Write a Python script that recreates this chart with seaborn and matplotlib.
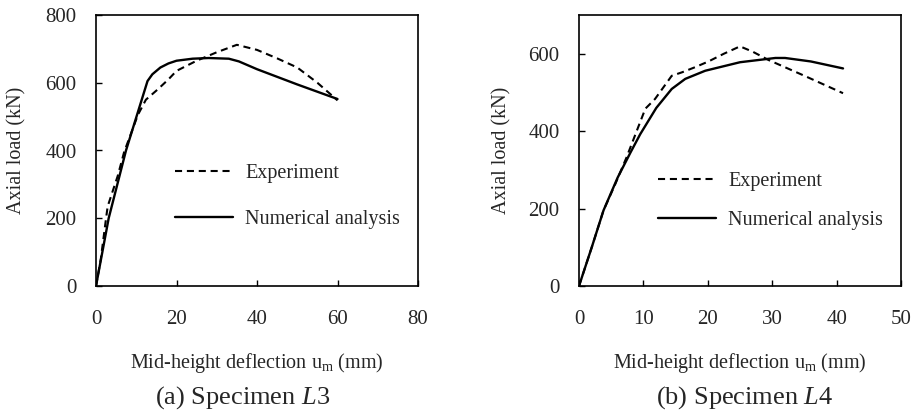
import matplotlib
matplotlib.use("Agg")
import matplotlib.pyplot as plt
import seaborn as sns
import pandas as pd

# ---- data ----
l3_exp_x = [0, 1.2, 2.5, 2.9, 5.4, 7.0, 8.7, 10.4, 12.4, 15.3, 18, 20, 25, 30, 35, 40, 45, 50, 55, 60]
l3_exp_y = [0, 80, 200, 235, 325, 396, 450, 505, 550, 580, 610, 635, 665, 690, 712, 697, 672, 645, 600, 548]
l3_num_x = [0, 3.15, 7.45, 12.8, 14, 16, 18, 20, 24, 28, 33, 35.5, 40, 50, 60]
l3_num_y = [0, 200, 400, 605, 625, 645, 657, 665, 671, 673, 671, 663, 640, 595, 552]

l4_exp_x = [0, 2, 3.8, 5.6, 7.4, 9.0, 10.3, 11.8, 14.4, 16, 18, 20.1, 22.5, 25, 27, 29.4, 35, 41]
l4_exp_y = [0, 101, 195, 262, 333, 402, 458, 483, 543, 552, 565, 580, 600, 619, 605, 584, 543, 498]
l4_num_x = [0, 2, 3.8, 6, 8, 9.5, 12, 14.4, 16.5, 19.6, 25, 30.5, 32, 36, 41]
l4_num_y = [0, 101, 195, 280, 345, 392, 460, 509, 535, 556, 578, 589, 589, 580, 562]

series_labels = ["Experiment", "Numerical analysis"]
captions = ["(a) Specimen $\\mathit{L}$3", "(b) Specimen $\\mathit{L}$4"]
x_ticks = [[0, 20, 40, 60, 80], [0, 10, 20, 30, 40, 50]]
y_ticks = [[0, 200, 400, 600, 800], [0, 200, 400, 600]]
y_lims = [(0, 800), (0, 700)]
x_label = "Mid-height deflection u$_{\\mathrm{m}}$ (mm)"
y_label = "Axial load (kN)"

sns.set_style("ticks")
plt.rcParams["font.family"] = ["Liberation Serif", "DejaVu Serif"]
plt.rcParams["mathtext.fontset"] = "custom"
plt.rcParams["mathtext.rm"] = "Liberation Serif"
plt.rcParams["mathtext.it"] = "Liberation Serif:italic"

W, H = 915, 415
fig = plt.figure(figsize=(W / 100, H / 100), dpi=100)
fig.patch.set_facecolor("white")

panels = [
    (96, l3_exp_x, l3_exp_y, l3_num_x, l3_num_y, 243, 1.3, 0.33, -0.217),
    (579, l4_exp_x, l4_exp_y, l4_num_x, l4_num_y, 745, 1.0, 0.315, -0.211),
]

dash = (0, (3.4, 2.3))
for i, (left_px, ex, ey, nx, ny, cap_x, lspace, leg_y, ylab_x) in enumerate(panels):
    ax = fig.add_axes([left_px / W, 129 / H, 322 / W, 271 / H])
    df_e = pd.DataFrame({"x": ex, "y": ey})
    df_n = pd.DataFrame({"x": nx, "y": ny})
    sns.lineplot(data=df_e, x="x", y="y", ax=ax, color="black", lw=1.5,
                 linestyle=dash, sort=False, estimator=None, label=series_labels[0])
    sns.lineplot(data=df_n, x="x", y="y", ax=ax, color="black", lw=1.7,
                 sort=False, estimator=None, label=series_labels[1])
    ax.set_xlim(x_ticks[i][0], x_ticks[i][-1])
    ax.set_ylim(*y_lims[i])
    ax.set_xticks(x_ticks[i])
    ax.set_yticks(y_ticks[i])
    ax.tick_params(direction="in", length=4, width=1.0, labelsize=15, color="black")
    ax.tick_params(axis="x", pad=17)
    ax.tick_params(axis="y", pad=14)
    for s in ax.spines.values():
        s.set_visible(True)
        s.set_linewidth(1.2)
        s.set_color("black")
    ax.set_xlabel(x_label, fontsize=14.5)
    ax.set_ylabel(y_label, fontsize=14.5)
    ax.xaxis.set_label_coords(0.5, -0.24)
    ax.yaxis.set_label_coords(ylab_x, 0.5)
    ax.legend(loc="center left", bbox_to_anchor=(0.245, leg_y), frameon=False,
              fontsize=14.5, handlelength=2.9, handletextpad=0.6,
              borderpad=0, borderaxespad=0, labelspacing=lspace)
    fig.text(cap_x / W, 1 - 398 / H, captions[i], fontsize=19, ha="center", va="center")

fig.savefig("out.png", dpi=100, facecolor="white")
